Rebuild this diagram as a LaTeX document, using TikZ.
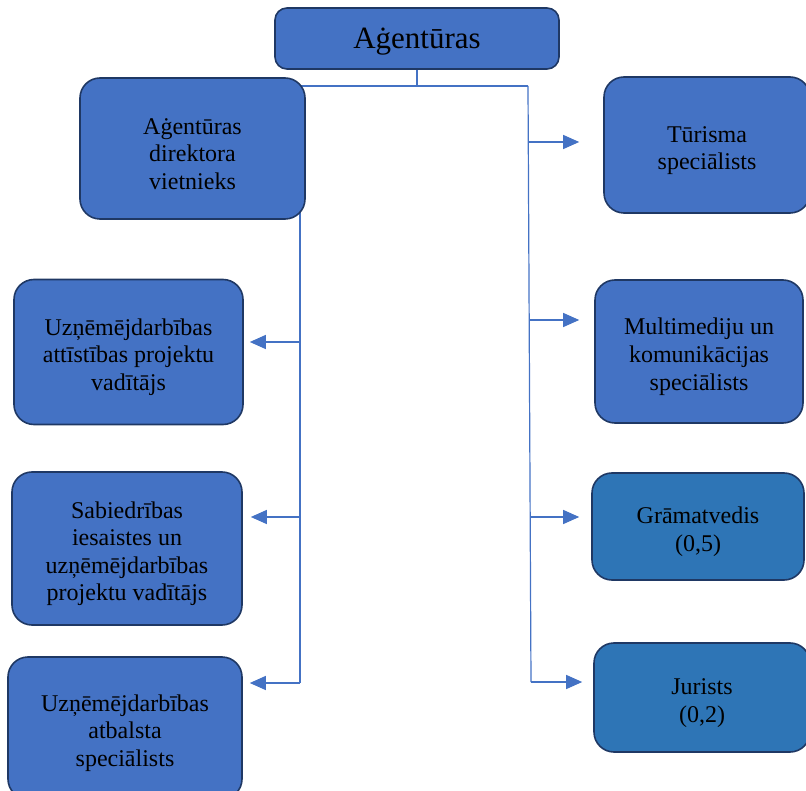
\documentclass[tikz,border=0pt]{standalone}
\usepackage{fontspec}
\setmainfont{Liberation Serif}
\usetikzlibrary{arrows.meta,backgrounds}
\definecolor{boxblue}{HTML}{4472C4}
\definecolor{boxsteel}{HTML}{2E75B6}
\definecolor{boxedge}{HTML}{1F3864}
\definecolor{linkblue}{HTML}{4472C4}
\newcommand{\lowstrut}{\rule{0pt}{27pt}}
\begin{document}
\begin{tikzpicture}[x=1pt,y=-1pt,
  orgbox/.style={draw=boxedge, line width=1.6pt, fill=boxblue, rounded corners=20pt,
    align=center, text=black, inner sep=0pt,
    font=\fontsize{24}{27.6}\selectfont},
  steelbox/.style={orgbox, fill=boxsteel},
  link/.style={draw=linkblue, line width=1.2pt},
  arrowlink/.style={link, -{Triangle[length=16pt,width=14pt]}}
]
\useasboundingbox (0,0) rectangle (806,791);
% nodes
\node[orgbox, rounded corners=12pt, minimum width=284pt, minimum height=61pt,
  font=\fontsize{31}{35}\selectfont] (top) at (417,38.5) {\lowstrut Aġentūras};
\node[orgbox, minimum width=225pt, minimum height=141pt] (dep) at (192.5,148.5)
  {\lowstrut Aġentūras\\direktora\\ vietnieks};
\node[orgbox, minimum width=206pt, minimum height=136pt] (tur) at (707,145)
  {\lowstrut Tūrisma\\speciālists};
\node[orgbox, minimum width=208pt, minimum height=143pt] (mm) at (699,351.5)
  {\lowstrut Multimediju un\\komunikācijas\\speciālists};
\node[steelbox, minimum width=212pt, minimum height=107pt] (gr) at (698,526.5)
  {\lowstrut Grāmatvedis\\(0,5)};
\node[steelbox, minimum width=216pt, minimum height=109pt] (jur) at (702,697.5)
  {\lowstrut Jurists\\(0,2)};
\node[orgbox, minimum width=229pt, minimum height=145pt] (la) at (128.5,352)
  {\lowstrut Uzņēmējdarbības\\attīstības projektu\\vadītājs};
\node[orgbox, minimum width=230pt, minimum height=153pt] (lb) at (127,548.5)
  {\lowstrut Sabiedrības\\iesaistes un\\uzņēmējdarbības\\projektu vadītājs};
\node[orgbox, minimum width=234pt, minimum height=142pt] (lc) at (125,728)
  {\lowstrut Uzņēmējdarbības\\atbalsta\\speciālists};
% junction coordinates
\coordinate (jt) at (417,86);
\coordinate (jl) at (300,86);
\coordinate (jr) at (528,86);
\coordinate (bl1) at (300,342);
\coordinate (bl2) at (300,517);
\coordinate (bl3) at (300,683);
\coordinate (br1) at (529,142);
\coordinate (br2) at (529,320);
\coordinate (br3) at (530,517);
\coordinate (br4) at (531,682);
\begin{scope}[on background layer]
\draw[link] (top.south) -- (jt);
\draw[link] (jl) -- (jr);
\draw[link] (jl) -- (bl3);
\draw[link] (jr) -- (br4);
\end{scope}
\draw[arrowlink, shorten >=6pt] (bl1) -- (bl1 -| la.east);
\draw[arrowlink, shorten >=8pt] (bl2) -- (bl2 -| lb.east);
\draw[arrowlink, shorten >=7pt] (bl3) -- (bl3 -| lc.east);
\draw[arrowlink, shorten >=24pt] (br1) -- (br1 -| tur.west);
\draw[arrowlink, shorten >=15pt] (br2) -- (br2 -| mm.west);
\draw[arrowlink, shorten >=12pt] (br3) -- (br3 -| gr.west);
\draw[arrowlink, shorten >=11pt] (br4) -- (br4 -| jur.west);
\end{tikzpicture}
\end{document}
